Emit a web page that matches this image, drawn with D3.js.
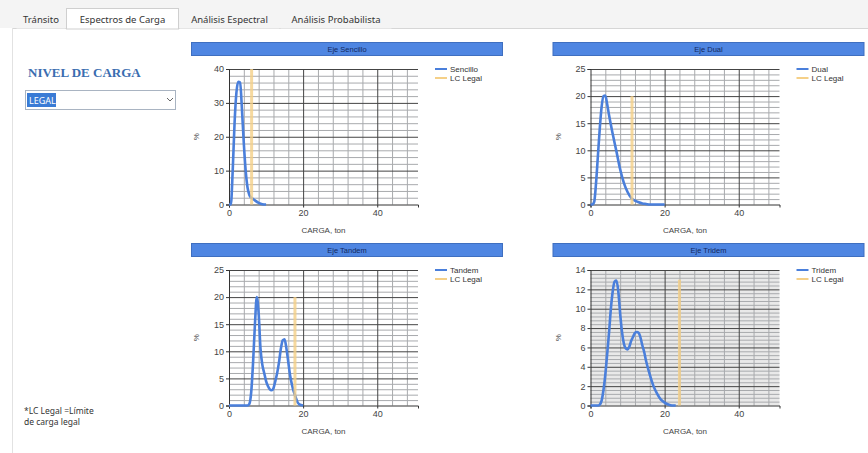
<!DOCTYPE html>
<html><head><meta charset="utf-8">
<script src="https://cdn.jsdelivr.net/npm/d3@7"></script>
<style>html,body{margin:0;padding:0;background:#fff;overflow:hidden}</style>
</head><body>
<script>
// ---------- DATA ----------
const tabLabels = ["Tránsito", "Espectros de Carga", "Análisis Espectral", "Análisis Probabilista"];
const panelTitles = ["Eje Sencillo", "Eje Dual", "Eje Tandem", "Eje Tridem"];
const seriesNames = ["Sencillo", "Dual", "Tandem", "Tridem"];
const lcName = "LC Legal";
const xAxisTitle = "CARGA, ton";
const yAxisTitle = "%";
const xTickValues = [0, 20, 40];
const xMax = 51;
const yMaxes = [40, 25, 25, 14];
const yMajors = [10, 5, 5, 2];

const xSencillo = [0, 0.5, 1, 1.5, 2, 2.5, 3, 3.5, 4, 4.5, 5, 5.5, 6, 6.5, 7, 8, 9, 10];
const ySencillo = [0, 0, 10, 24, 33, 36.2, 36, 28, 18, 10, 5, 2.8, 2, 1.6, 1.2, 0.5, 0.1, 0];

const xDual = [0, 0.5, 1, 1.5, 2, 2.5, 3, 3.5, 4, 4.5, 5, 6, 7, 8, 9, 10, 11, 12, 13, 14, 15, 16, 18, 20];
const yDual = [0, 0, 0.5, 4, 9, 14, 18, 20, 20.1, 18.5, 16.5, 13, 9.8, 6.5, 4, 2.3, 1.2, 0.7, 0.4, 0.2, 0.1, 0, 0, 0];

const xTandem = [0, 2, 4, 5, 5.5, 6, 6.5, 7, 7.5, 8, 8.5, 9, 9.5, 10, 10.5, 11, 11.5, 12, 12.5, 13, 13.5, 14, 14.5, 15, 15.5, 16, 16.5, 17, 17.5, 18, 18.5, 19, 20];
const yTandem = [0, 0, 0, 0, 0.3, 2.5, 8, 15, 20, 17, 10.5, 7.5, 6, 4.5, 3.6, 3, 2.8, 3.2, 4.5, 6, 8, 10.5, 12, 12.2, 10.5, 8, 5.5, 3.8, 2.5, 1.5, 0.6, 0.2, 0];

const xTridem = [0, 2, 2.5, 3, 3.5, 4, 4.5, 5, 5.5, 6, 6.5, 7, 7.5, 8, 8.5, 9, 9.5, 10, 10.5, 11, 11.5, 12, 12.5, 13, 13.5, 14, 14.5, 15, 16, 17, 18, 19, 20, 21, 22, 23];
const yTridem = [0, 0, 0.1, 0.5, 1.6, 3.2, 5.3, 7.5, 10, 11.8, 12.8, 12.9, 11.8, 9.5, 7.6, 6.4, 5.9, 5.8, 6.1, 6.7, 7.1, 7.5, 7.6, 7.5, 7.0, 6.2, 5.5, 4.6, 3.2, 2.0, 1.2, 0.6, 0.3, 0.1, 0, 0];

const lcLegal = [6.1, 11.2, 17.8, 24];
const lcTop = [40, 20, 20, 13];

const nivelLabel = "NIVEL DE CARGA";
const comboValue = "LEGAL";
const footnote = ["*LC Legal =Límite", "de carga legal"];

// ---------- DRAW ----------
const W = 868, H = 453;
const svg = d3.select("body").append("svg").attr("width", W).attr("height", H)
  .style("font-family", "'Liberation Sans', Arial, sans-serif");
svg.append("rect").attr("width", W).attr("height", H).attr("fill", "#fff");

// Tab strip
svg.append("rect").attr("x", 0).attr("y", 0).attr("width", W).attr("height", 28).attr("fill", "#f4f4f4");
svg.append("line").attr("x1", 12).attr("x2", W).attr("y1", 28.5).attr("y2", 28.5).attr("stroke", "#d6d6d6");
svg.append("line").attr("x1", 12.5).attr("x2", 12.5).attr("y1", 28).attr("y2", H).attr("stroke", "#e2e2e2");
const tabX = [16, 66, 179, 280, 392];
tabLabels.forEach((t, i) => {
  const sel = i === 1;
  svg.append("rect").attr("x", tabX[i] + 0.5).attr("y", sel ? 8.5 : 11.5)
    .attr("width", tabX[i + 1] - tabX[i] - 1).attr("height", sel ? 20.5 : 17)
    .attr("fill", sel ? "#fff" : "#f4f4f4").attr("stroke", sel ? "#cfcfcf" : "none");
  svg.append("text").attr("x", (tabX[i] + tabX[i + 1]) / 2).attr("y", 23)
    .attr("text-anchor", "middle").attr("font-size", "9.5px")
    .attr("font-family", "'Noto Sans', sans-serif").attr("fill", "#333").text(t);
});

// Left panel
svg.append("text").attr("x", 28).attr("y", 77).attr("font-size", "13px").attr("font-weight", "bold")
  .attr("font-family", "'Liberation Serif', serif").attr("fill", "#3a6db0").text(nivelLabel);
svg.append("rect").attr("x", 25.5).attr("y", 90.5).attr("width", 150).attr("height", 19)
  .attr("fill", "#fff").attr("stroke", "#a9b4c2");
svg.append("rect").attr("x", 27).attr("y", 93).attr("width", 29).attr("height", 14).attr("fill", "#3a7bd5");
svg.append("text").attr("x", 29).attr("y", 104).attr("font-size", "9px").attr("fill", "#fff")
  .attr("font-family", "'Noto Sans', sans-serif").text(comboValue);
svg.append("path").attr("d", "M167,98 L170,101 L173,98").attr("fill", "none").attr("stroke", "#666").attr("stroke-width", 1);
footnote.forEach((t, i) => {
  svg.append("text").attr("x", 24).attr("y", 414 + i * 11).attr("font-size", "8.5px")
    .attr("font-family", "'Noto Sans', sans-serif").attr("fill", "#333").text(t);
});

// Charts
const xsAll = [xSencillo, xDual, xTandem, xTridem];
const ysAll = [ySencillo, yDual, yTandem, yTridem];
const colX = [0, 361.5];
const rowY = [0, 201];
const blue = "#4a7fdb";
const yellow = "#f5d088";

panelTitles.forEach((title, i) => {
  const ox = colX[i % 2], oy = rowY[Math.floor(i / 2)];
  const L = 229 + ox, R = 418 + ox, T = 69 + oy, B = 204.5 + oy;
  const g = svg.append("g");

  // title bar
  g.append("rect").attr("x", 191.5 + ox).attr("y", 42.5 + oy).attr("width", 311).attr("height", 13)
    .attr("fill", "#4f86e2").attr("stroke", "#3f6fc0");
  g.append("text").attr("x", 347 + ox).attr("y", 52 + oy).attr("text-anchor", "middle")
    .attr("font-size", "7.5px").attr("fill", "#13295e").text(title);

  const x = d3.scaleLinear().domain([0, xMax]).range([L, R]);
  const y = d3.scaleLinear().domain([0, yMaxes[i]]).range([B, T]);
  const step = yMajors[i], minor = step / 5;
  const eps = 1e-6;
  const yMinorVals = d3.range(minor, yMaxes[i] + eps, minor).filter(v => Math.abs(v / step - Math.round(v / step)) > 1e-4);
  const yMajorVals = d3.range(step, yMaxes[i] + eps, step);
  const xMinorVals = d3.range(4, xMax, 4).filter(v => v % 20 !== 0);
  const xMajorVals = d3.range(20, xMax, 20);

  if (i === 3) {
    g.append("rect").attr("x", L).attr("y", T).attr("width", R - L).attr("height", B - T).attr("fill", "#e9e9e9");
  }

  // minor grid
  g.append("g").attr("transform", `translate(${L},0)`)
    .call(d3.axisLeft(y).tickValues(yMinorVals).tickSize(-(R - L)).tickFormat(""))
    .call(a => a.select(".domain").remove())
    .call(a => a.selectAll("line").attr("stroke", "#a8aaad").attr("stroke-width", 1));
  g.append("g").attr("transform", `translate(0,${B})`)
    .call(d3.axisBottom(x).tickValues(xMinorVals).tickSize(-(B - T)).tickFormat(""))
    .call(a => a.select(".domain").remove())
    .call(a => a.selectAll("line").attr("stroke", "#a8aaad").attr("stroke-width", 1));
  // major grid
  g.append("g").attr("transform", `translate(${L},0)`)
    .call(d3.axisLeft(y).tickValues(yMajorVals).tickSize(-(R - L)).tickFormat(""))
    .call(a => a.select(".domain").remove())
    .call(a => a.selectAll("line").attr("stroke", "#444").attr("stroke-width", 1));
  g.append("g").attr("transform", `translate(0,${B})`)
    .call(d3.axisBottom(x).tickValues(xMajorVals).tickSize(-(B - T)).tickFormat(""))
    .call(a => a.select(".domain").remove())
    .call(a => a.selectAll("line").attr("stroke", "#444").attr("stroke-width", 1));

  // axes
  const yAx = g.append("g").attr("transform", `translate(${L},0)`)
    .call(d3.axisLeft(y).tickValues([0].concat(yMajorVals)).tickSize(3).tickPadding(2).tickFormat(d3.format("d")));
  const xAx = g.append("g").attr("transform", `translate(0,${B})`)
    .call(d3.axisBottom(x).tickValues(xTickValues).tickSize(3).tickPadding(2).tickFormat(d3.format("d")));
  [yAx, xAx].forEach(a => {
    a.select(".domain").attr("stroke", "#333");
    a.selectAll(".tick line").attr("stroke", "#333");
    a.selectAll("text").attr("font-size", "9px").attr("fill", "#444")
      .attr("font-family", "'Liberation Sans', Arial, sans-serif");
  });

  // axis titles
  g.append("text").attr("transform", `translate(${L - 30},${(T + B) / 2}) rotate(-90)`)
    .attr("text-anchor", "middle").attr("font-size", "8px").attr("fill", "#444").text(yAxisTitle);
  g.append("text").attr("x", (L + R) / 2).attr("y", B + 28).attr("text-anchor", "middle")
    .attr("font-size", "8px").attr("fill", "#444").text(xAxisTitle);

  // series
  const pts = xsAll[i].map((v, k) => [v, ysAll[i][k]]);
  const line = d3.line().x(d => x(d[0])).y(d => y(d[1])).curve(d3.curveMonotoneX);
  g.append("path").datum(pts).attr("d", line).attr("fill", "none")
    .attr("stroke", blue).attr("stroke-width", 2.6).attr("stroke-linejoin", "round");

  // LC Legal
  const lcPts = [[lcLegal[i], 0], [lcLegal[i], lcTop[i]]];
  g.append("path").datum(lcPts).attr("d", d3.line().x(d => x(d[0])).y(d => y(d[1])))
    .attr("stroke", yellow).attr("stroke-width", 3).attr("opacity", 0.8);

  // legend
  const lx = 435 + ox, ly = 69 + oy;
  [[seriesNames[i], blue], [lcName, yellow]].forEach((d, k) => {
    g.append("line").attr("x1", lx).attr("x2", lx + 12).attr("y1", ly + k * 9).attr("y2", ly + k * 9)
      .attr("stroke", d[1]).attr("stroke-width", 2);
    g.append("text").attr("x", lx + 15).attr("y", ly + k * 9 + 3).attr("font-size", "8px")
      .attr("fill", "#333").text(d[0]);
  });
});
</script>
</body></html>
